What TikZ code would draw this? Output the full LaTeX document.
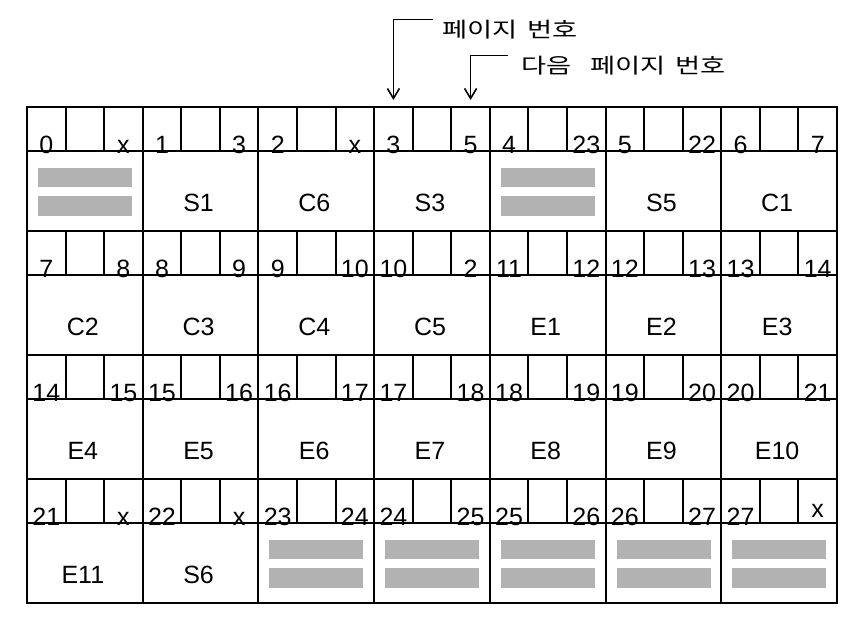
\documentclass[tikz,border=0pt]{standalone}
\usepackage{graphicx}
\usepackage{fontspec}
\setmainfont{Liberation Sans}
\newfontfamily\hangul{Noto Sans CJK KR}
\usetikzlibrary{calc, positioning, arrows.meta}

\tikzset{
  pagenum/.style={anchor=base, inner sep=0pt, font=\fontsize{25}{25}\selectfont},
  segname/.style={inner sep=0pt, font=\fontsize{25}{25}\selectfont},
  freeslot/.style={fill=black!30},
  legend/.style={anchor=base west, inner sep=0pt, font=\hangul\fontsize{21}{21}\selectfont},
  pointer/.style={line width=1.6pt, -{Straight Barb[length=10pt, width=12pt]}},
}

\begin{document}
\begin{tikzpicture}[x=1pt, y=-1pt, line width=2pt]
  \useasboundingbox (0,0) rectangle (862,642);

  \def\colw{115.714}

  % free slots
  \foreach \r/\c in {0/0, 0/4, 3/2, 3/3, 3/4, 3/5, 3/6} {
    \fill[freeslot] ({38+\c*\colw},{168+124*\r}) rectangle ++(94,19);
    \fill[freeslot] ({38+\c*\colw},{196+124*\r}) rectangle ++(94,20);
  }

  % table lines
  \draw (27,107) rectangle (837,603);
  \foreach \c in {1,...,6}
    \draw ({27+\c*\colw},107) -- ({27+\c*\colw},603);
  \foreach \r in {0,...,3} {
    \draw (27,{151+124*\r}) -- (837,{151+124*\r});
    \draw (27,{231+124*\r}) -- (837,{231+124*\r});
    \foreach \c in {0,...,6}
      \foreach \k in {1,2}
        \draw ({27+\c*\colw+\k*\colw/3},{107+124*\r}) -- ++(0,44);
  }

  % page number / next page number
  \foreach \p/\n [count=\i from 0] in {0/x, 1/3, 2/x, 3/5, 4/23, 5/22, 6/7,
      7/8, 8/9, 9/10, 10/2, 11/12, 12/13, 13/14,
      14/15, 15/16, 16/17, 17/18, 18/19, 19/20, 20/21,
      21/x, 22/x, 23/24, 24/25, 25/26, 26/27, 27/x} {
    \pgfmathtruncatemacro\r{\i/7}
    \pgfmathtruncatemacro\c{mod(\i,7)}
    \pgfmathsetmacro\lift{\i==27 ? 8 : 0}
    \node[pagenum] (page-\r-\c) at ({27+\c*\colw+\colw/6},{153+124*\r}) {\p};
    \node[pagenum] (next-\r-\c) at ({27+\c*\colw+5*\colw/6},{153+124*\r-\lift}) {\n};
  }

  % segment names
  \foreach \r/\c/\lab in {0/1/S1, 0/2/C6, 0/3/S3, 0/5/S5, 0/6/C1,
      1/0/C2, 1/1/C3, 1/2/C4, 1/3/C5, 1/4/E1, 1/5/E2, 1/6/E3,
      2/0/E4, 2/1/E5, 2/2/E6, 2/3/E7, 2/4/E8, 2/5/E9, 2/6/E10,
      3/0/E11, 3/1/S6}
    \node[segname] (seg-\r-\c) at ({27+\c*\colw+\colw/2-2},{203+124*\r}) {\lab};

  % legend
  \node[legend] (pagekey) at (441,38) {\scalebox{1.3}[1]{페이지\hspace{8pt}번호}};
  \node[legend] (nextkey) at (520,74) {\scalebox{1.3}[1]{다음\hspace{15pt}페이지\hspace{7pt}번호}};

  \coordinate (arrowtop) at (0,100);
  \draw[pointer] ([xshift=-8pt]pagekey.north west) -| (page-0-3 |- arrowtop);
  \draw[pointer] ([xshift=-12pt]nextkey.north west) -| (next-0-3 |- arrowtop);

\end{tikzpicture}
\end{document}
